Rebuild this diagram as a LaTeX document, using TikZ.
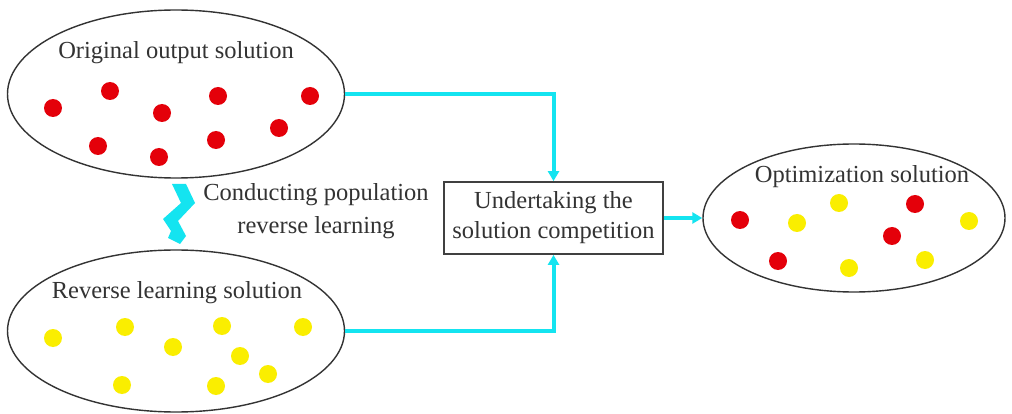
\documentclass[tikz,border=0pt]{standalone}
\usepackage{fontspec}
\setmainfont{Liberation Serif}
\usetikzlibrary{shapes.geometric,arrows.meta}
\definecolor{flow}{RGB}{20,228,240}
\definecolor{dotred}{RGB}{228,0,10}
\definecolor{dotyellow}{RGB}{250,238,0}
\tikzset{
  pool/.style={draw=black!80, line width=1.4pt, ellipse, inner sep=0pt},
  title/.style={anchor=base, font=\fontsize{24.5}{29}\selectfont, text=black!80},
  reddot/.style={circle, fill=dotred, minimum size=18pt, inner sep=0pt},
  yellowdot/.style={circle, fill=dotyellow, minimum size=18pt, inner sep=0pt},
  compbox/.style={draw=black!75, line width=1.8pt, minimum width=219pt, minimum height=72pt,
    align=center, inner sep=0pt, font=\fontsize{24.5}{30}\selectfont, text=black!80},
  flowarrow/.style={draw=flow, line width=4pt, -{Triangle[length=10pt,width=11pt]}}
}
\begin{document}
\begin{tikzpicture}[x=1pt,y=-1pt]
\useasboundingbox[fill=white] (0,0) rectangle (1012,414);

% the three solution sets
\node[pool, minimum width=337pt, minimum height=168pt] (orig) at (176,94) {};
\node[pool, minimum width=337pt, minimum height=162pt] (rev) at (176,331) {};
\node[pool, minimum width=302pt, minimum height=148pt] (opt) at (854,218) {};

\node[title] (origT) at (176,59) {Original output solution};
\node[title] (revT) at (177,298) {Reverse learning solution};
\node[title] (optT) at (862,183) {Optimization solution};

% competition step
\node[compbox] (comp) at (553.5,218) {Undertaking the\\solution competition};

% original population
\foreach \x/\y [count=\i] in {53/108,110/91,162/113,218/96,310/96,98/146,159/157,216/140,279/128}
  \node[reddot] (o\i) at (\x,\y) {};

% reversed population
\foreach \x/\y [count=\i] in {53/338,125/327,173/347,222/326,303/327,240/356,268/374,122/385,216/386}
  \node[yellowdot] (r\i) at (\x,\y) {};

% merged population
\foreach \x/\y [count=\i] in {740/220,915/204,892/236,778/261}
  \node[reddot] (pr\i) at (\x,\y) {};
\foreach \x/\y [count=\i] in {797/223,839/203,969/221,849/268,925/260}
  \node[yellowdot] (py\i) at (\x,\y) {};

% flows into and out of the competition
\draw[flowarrow] (orig.east) -| (comp.north);
\draw[flowarrow] (rev.east) -| (comp.south);
\draw[flowarrow] (comp.east) -- (opt.west);

% lightning arrow for the reverse learning step
\fill[flow] (172,184) -- (186,184) -- (195,203) -- (178,221) -- (186,236) -- (180,244)
  -- (168,238) -- (171,231) -- (163,219) -- (181,203) -- cycle;
\node[align=center, font=\fontsize{24.5}{33}\selectfont, text=black!80] (learn) at (316,211)
  {Conducting population\\reverse learning};
\end{tikzpicture}
\end{document}
